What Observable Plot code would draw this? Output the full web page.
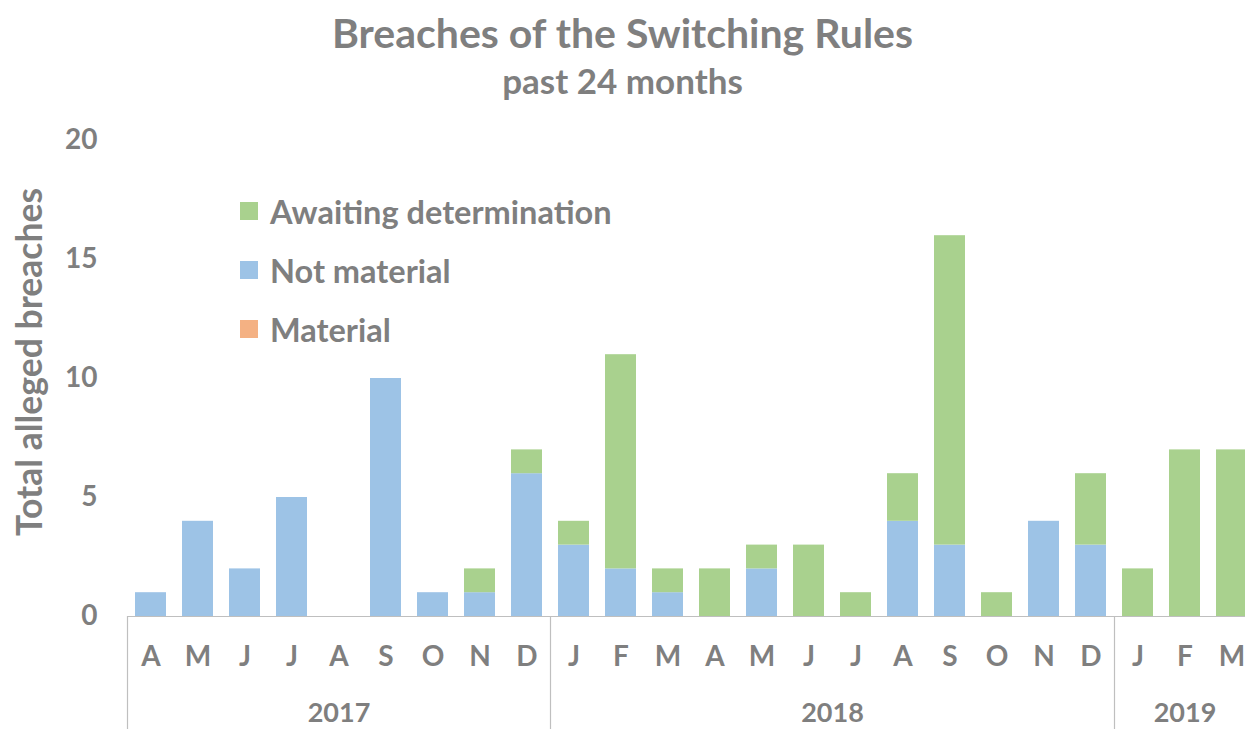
<!DOCTYPE html>
<html>
<head>
<meta charset="utf-8">
<script src="https://cdn.jsdelivr.net/npm/d3@7"></script>
<script src="https://cdn.jsdelivr.net/npm/@observablehq/plot@0.6"></script>
<style>
  html, body { margin: 0; padding: 0; background: #fff; overflow: hidden; }
  body { width: 1245px; height: 729px; position: relative; font-family: Lato, "Open Sans", sans-serif; font-weight: bold; color: #7f7f7f; }
  #title { position: absolute; left: 0; width: 1245px; top: 9px; text-align: center; font-size: 41px; line-height: 48px; }
  #subtitle { position: absolute; left: 0; width: 1245px; top: 60px; text-align: center; font-size: 35px; line-height: 40px; }
  #chart { position: absolute; left: 0; top: 105px; }
  #legend { position: absolute; left: 240px; top: 190px; }
  .item { position: absolute; left: 0; height: 42px; display: flex; align-items: center; white-space: nowrap; font-size: 32.5px; }
  .sw { width: 18px; height: 18px; margin-right: 12px; }
  #ylabel { position: absolute; left: 28px; top: 362px; transform: translate(-50%, -50%) rotate(-90deg); font-size: 35.5px; white-space: nowrap; }
</style>
</head>
<body>
<div id="title">Breaches of the Switching Rules</div>
<div id="subtitle">past 24 months</div>
<div id="ylabel">Total alleged breaches</div>
<div id="chart"></div>
<div id="legend"></div>
<script>
const months = ["A","M","J","J","A","S","O","N","D","J","F","M","A","M","J","J","A","S","O","N","D","J","F","M"];
const yearLabels = ["2017", "2018", "2019"];
const yearCounts = [9, 12, 3];
const material      = [0,0,0,0,0,0,0,0,0, 0,0,0,0,0,0,0,0,0,0,0,0, 0,0,0];
const notMaterial   = [1,4,2,5,0,10,1,1,6, 3,2,1,0,2,0,0,4,3,0,4,3, 0,0,0];
const awaiting      = [0,0,0,0,0,0,0,1,1, 1,9,1,2,1,3,1,2,13,1,0,3, 2,7,7];
const seriesNames = ["Material", "Not material", "Awaiting determination"];
const seriesColors = ["#F4B183", "#9DC3E6", "#A9D18E"];
const yTicks = [0, 5, 10, 15, 20];

const seriesValues = [material, notMaterial, awaiting];
const rows = [];
seriesValues.forEach((vals, s) => vals.forEach((v, i) => rows.push({i, series: seriesNames[s], value: v})));
const monthRows = months.map((m, i) => ({i, m}));
const years = [];
let start = 0;
yearLabels.forEach((y, k) => { years.push({label: y, start, end: start + yearCounts[k]}); start += yearCounts[k]; });

const gray = "#7f7f7f";
const chart = Plot.plot({
  width: 1245,
  height: 624,
  marginTop: 35,
  marginBottom: 113,
  marginLeft: 127,
  marginRight: 0,
  style: {fontFamily: "Lato, 'Open Sans', sans-serif", fontWeight: "bold", color: gray, background: "transparent", overflow: "visible"},
  x: {domain: [0, 24], range: [127, 1255], axis: null},
  y: {domain: [0, 20], ticks: yTicks, tickSize: 0, tickPadding: 30, label: null, tickFormat: d => d},
  color: {domain: seriesNames, range: seriesColors},
  marks: [
    Plot.rectY(rows, {x1: "i", x2: d => d.i + 1, y: "value", fill: "series", insetLeft: 8, insetRight: 8}),
    Plot.ruleY([0], {stroke: "#BFBFBF", strokeWidth: 1.2}),
    Plot.ruleX(years.map(y => y.start), {x: d => d, y1: () => 0, y2: () => 0, insetBottom: -113, stroke: "#BFBFBF", strokeWidth: 1.2}),
    Plot.text(monthRows, {x: d => d.i + 0.5, y: () => 0, text: "m", dy: 41, fontSize: 28, fill: gray, fontWeight: "bold"}),
    Plot.text(years, {x: d => (d.start + d.end) / 2, y: () => 0, text: "label", dy: 97, fontSize: 27, fill: gray, fontWeight: "bold"})
  ]
});
chart.querySelectorAll("g[aria-label='y-axis tick label'] text, g[aria-label='y-axis'] text").forEach(t => { t.setAttribute("font-size", 28); t.style.fontSize = "28px"; });
const yAxisG = chart.querySelector("g[aria-label='y-axis tick label']") || chart.querySelector("g[aria-label='y-axis']");
if (yAxisG) { yAxisG.setAttribute("fill", gray); yAxisG.setAttribute("font-size", 28); }
document.getElementById("chart").appendChild(chart);

const legend = document.getElementById("legend");
const legendOrder = [2, 1, 0];
legendOrder.forEach((s, k) => {
  const it = document.createElement("div");
  it.className = "item";
  it.style.top = (k * 59) + "px";
  const sw = document.createElement("div");
  sw.className = "sw";
  sw.style.background = seriesColors[s];
  const tx = document.createElement("span");
  tx.textContent = seriesNames[s];
  it.appendChild(sw); it.appendChild(tx);
  legend.appendChild(it);
});
</script>
</body>
</html>
